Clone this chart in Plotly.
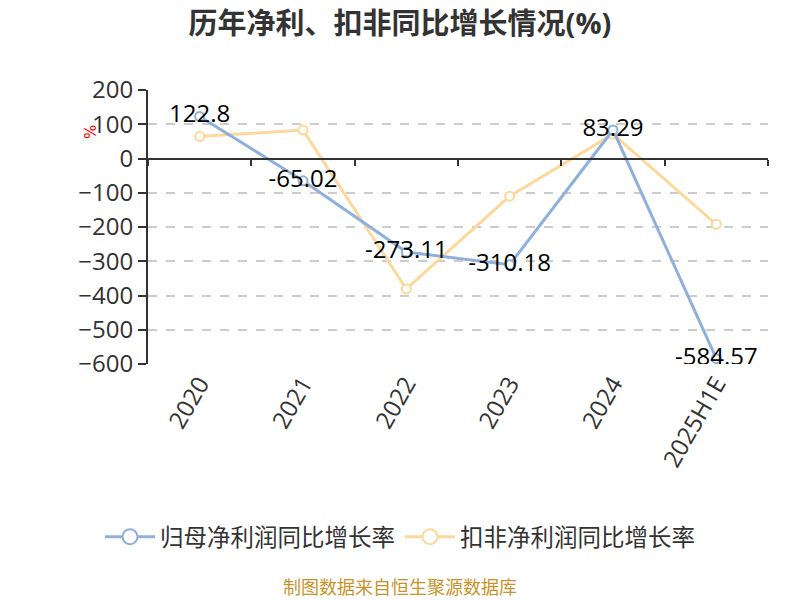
import plotly.graph_objects as go

categories = ["2020", "2021", "2022", "2023", "2024", "2025H1E"]
net_profit_yoy = [122.8, -65.02, -273.11, -310.18, 83.29, -584.57]
deducted_yoy = [64, 83, -381, -110, 71, -192]
series_names = ["归母净利润同比增长率", "扣非净利润同比增长率"]
y_ticks = [200, 100, 0, -100, -200, -300, -400, -500, -600]

BLUE = "#8fb0dc"
YELLOW = "#fdd89b"
FONT = "Open Sans, Noto Sans CJK SC, sans-serif"

fig = go.Figure()

fig.add_trace(go.Scatter(
    x=categories, y=deducted_yoy, mode="lines+markers",
    line=dict(color=YELLOW, width=3),
    marker=dict(size=9, color="white", line=dict(color=YELLOW, width=2)),
    showlegend=False, hoverinfo="skip"))

fig.add_trace(go.Scatter(
    x=categories, y=net_profit_yoy, mode="lines+markers+text",
    line=dict(color=BLUE, width=3),
    marker=dict(size=9, color="white", line=dict(color=BLUE, width=2)),
    text=[f"{v:g}" for v in net_profit_yoy], textposition="middle center",
    textfont=dict(size=24, color="#000000", family=FONT),
    showlegend=False, hoverinfo="skip"))

# legend entries
for name, col in zip(series_names, [BLUE, YELLOW]):
    fig.add_trace(go.Scatter(
        x=[categories[0]], y=[None], mode="lines+markers", name=name,
        line=dict(color=col, width=3),
        marker=dict(size=15, color="white", line=dict(color=col, width=2))))

# zero-line axis carrier
fig.add_trace(go.Scatter(x=categories, y=[None] * len(categories), xaxis="x2",
                         showlegend=False, hoverinfo="skip"))

W, H = 792, 592
fig.update_layout(
    width=W, height=H,
    margin=dict(l=140, r=32, t=82, b=236, autoexpand=False),
    paper_bgcolor="white", plot_bgcolor="white",
    font=dict(family=FONT, color="#333333", size=24),
    title=dict(text="<b>历年净利、扣非同比增长情况(%)</b>", x=(400 - 8) / W,
               xanchor="center", y=1 - 16 / H, yanchor="middle",
               font=dict(size=29, color="#333333")),
    xaxis=dict(type="category", categoryorder="array", categoryarray=categories,
               range=[-0.5, 5.5], showline=False, showgrid=False, zeroline=False,
               automargin=False,
               ticks="", tickangle=-60, tickfont=dict(size=24, color="#333333")),
    xaxis2=dict(type="category", categoryorder="array", categoryarray=categories,
                range=[-0.5, 5.5], overlaying="x", anchor="free", position=0.75,
                side="bottom", showline=True, linecolor="#333333", linewidth=2,
                ticks="outside", ticklen=6, tickwidth=2, tickcolor="#333333",
                tickson="boundaries", showticklabels=False, showgrid=False,
                zeroline=False, automargin=False),
    yaxis=dict(range=[-600, 200], tickvals=y_ticks, showline=True,
               linecolor="#333333", linewidth=2, ticks="outside", ticklen=8,
               tickwidth=2, tickcolor="#333333", showgrid=True,
               gridcolor="#cccccc", griddash="dash", gridwidth=1.5,
               zeroline=False, automargin=False,
               tickfont=dict(size=24, color="#333333")),
    legend=dict(orientation="h", x=(400 - 8) / W, xanchor="center", xref="container",
                y=1 - 529 / H, yanchor="middle", yref="container",
                font=dict(size=23.5, color="#333333"), itemwidth=50,
                bgcolor="rgba(0,0,0,0)"),
    annotations=[
        dict(text="%", xref="paper", yref="y", x=-0.11, y=77, showarrow=False,
             textangle=-90, font=dict(size=15, color="red", family="DejaVu Sans")),
        dict(text="制图数据来自恒生聚源数据库", xref="paper", yref="paper",
             x=(400 - 8 - 140) / 620, y=(356 - 579) / 274, xanchor="center",
             yanchor="middle", showarrow=False,
             font=dict(size=18, color="#c9932c")),
    ],
)

fig.write_html("out.html")
